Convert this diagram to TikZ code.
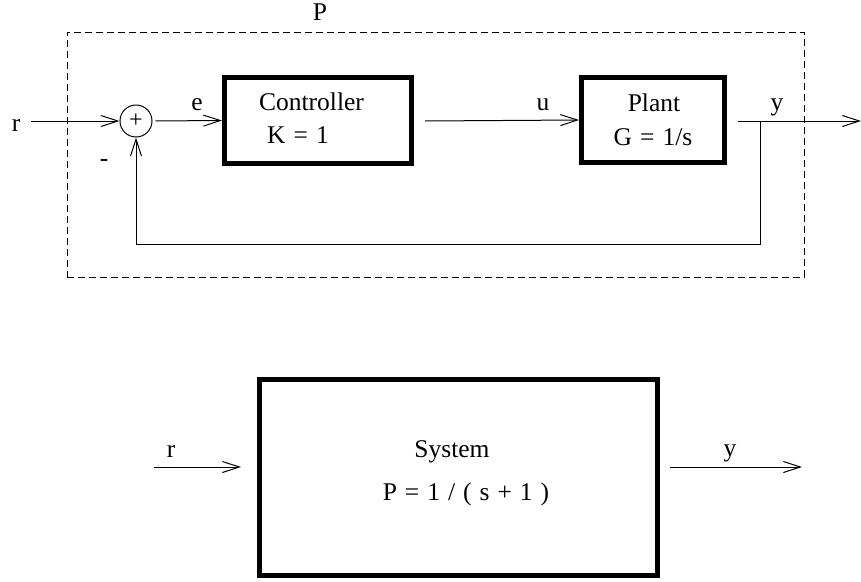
\documentclass[tikz,border=0pt]{standalone}
\usepackage{fontspec}
\setmainfont{Liberation Serif}
\usetikzlibrary{arrows.meta}
% wider word spaces for the block formulas
\newcommand\widesp{\spaceskip=8pt\relax}
\begin{document}
\begin{tikzpicture}[x=1pt,y=-1pt,
  sig/.style={line width=1pt,-{Straight Barb[length=17pt,width=11pt,line width=1pt]}},
  block/.style={draw,line width=5pt,inner sep=0pt},
  group/.style={draw,line width=1pt,dash pattern=on 7pt off 4pt,inner sep=0pt},
  txt/.style={anchor=base,inner sep=0pt,font=\fontsize{25.5}{30}\selectfont},
  sumnode/.style={draw,circle,line width=1pt,minimum size=32pt,inner sep=0pt,
                  font=\fontsize{24}{28}\selectfont}
]
\useasboundingbox (0,0) rectangle (861,581);

% ---- closed loop ----
\node[group,minimum width=737pt,minimum height=245pt] (grp) at (435.5,154.5) {};
\node[txt] (lblP) at (320,20) {P};

\node[sumnode] (sum) at (136,121) {+};
\node[block,minimum width=187pt,minimum height=86pt] (ctrl) at (318,120.5) {};
\node[block,minimum width=143pt,minimum height=85pt] (plant) at (653,120) {};

\node[txt] (tCtrl) at (311.5,110) {Controller};
\node[txt] (tK) at (298,143) {\widesp K = 1};
\node[txt] (tPlant) at (654,111) {Plant};
\node[txt] (tG) at (653,145) {\widesp G = 1/s};

\coordinate (rin) at (31,121);
\coordinate (ubeg) at (425,121);
\coordinate (ybeg) at (738,121);
\coordinate (yend) at (861,121);
\coordinate (tap) at (760,121);
\coordinate (fb) at (136,244);

\draw[sig] (rin) -- (sum.west);
\draw[sig,shorten <=3pt] (sum.east) -- (ctrl.west);
\draw[sig] (ubeg) -- (plant.west);
\draw[sig] (ybeg) -- (yend);
\draw[sig] (tap) |- (fb) -- (sum.south);

\node[txt] (lr) at (16,131.5) {r};
\node[txt] (le) at (197,110) {e};
\node[txt] (lminus) at (104,166) {-};
\node[txt] (lu) at (543,110) {u};
\node[txt] (ly) at (777,110) {y};

% ---- equivalent system ----
\node[block,minimum width=398pt,minimum height=196pt] (sys) at (458.5,477.5) {};
\node[txt] (tSys) at (452,457) {System};
\node[txt] (tP) at (466,500) {\widesp P = 1 / ( s + 1 )};

\coordinate (r2a) at (154,467);
\coordinate (r2b) at (241,467);
\coordinate (y2a) at (670,467);
\coordinate (y2b) at (802,467);
\draw[sig] (r2a) -- (r2b);
\draw[sig] (y2a) -- (y2b);
\node[txt] (lr2) at (171,457) {r};
\node[txt] (ly2) at (730,456) {y};
\end{tikzpicture}
\end{document}
